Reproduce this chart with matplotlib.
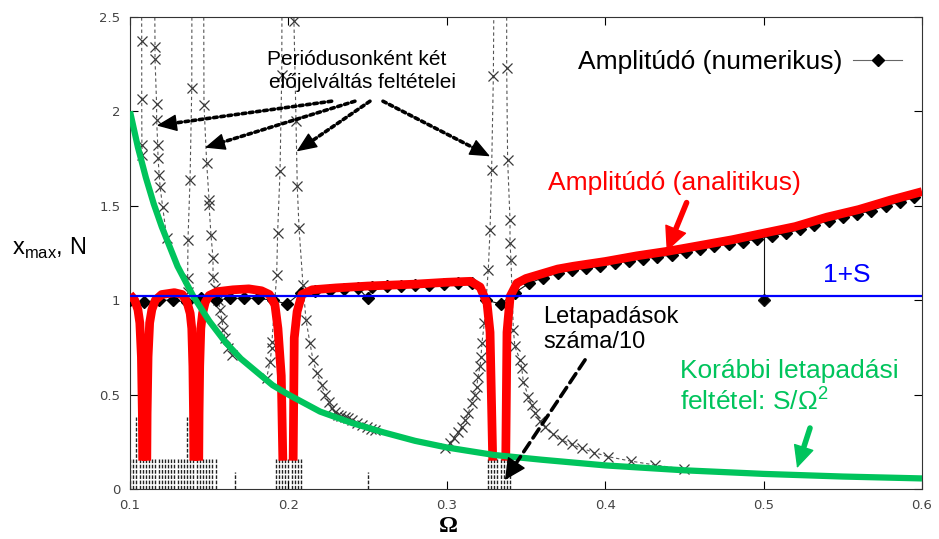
import matplotlib
matplotlib.use('Agg')
import matplotlib.pyplot as plt
from matplotlib.lines import Line2D

nan = float('nan')

# analytic amplitude (red), gaps where it drops out of the plotted range
red_omega = [0.1000, 0.1030, 0.1050, 0.1062, 0.1072, 0.1078, 0.1080, nan,
             0.1106, 0.1108, 0.1114, 0.1124, 0.1138, 0.1160, 0.1200, 0.1280, 0.1330, 0.1360, 0.1380,
             0.1390, 0.1397, 0.1401, 0.1403, nan,
             0.1434, 0.1436, 0.1440, 0.1447, 0.1458, 0.1475, 0.1500, 0.1550, 0.1650, 0.1750,
             0.1830, 0.1880, 0.1915, 0.1934, 0.1955, 0.1965, nan,
             0.2030, 0.2037, 0.2055, 0.2085, 0.2150, 0.2300, 0.2500, 0.2800, 0.3000, 0.3150, 0.3210, 0.3254,
             0.3273, 0.3290, nan,
             0.3372, 0.3380, 0.3400, 0.3443, 0.3500, 0.3600, 0.3700, 0.3800, 0.4000, 0.4200, 0.4400, 0.4600,
             0.4800, 0.5000, 0.5200, 0.5400, 0.5600, 0.5800, 0.6000]
red_amp = [1.03, 1.00, 0.95, 0.88, 0.70, 0.40, 0.15, nan,
           0.15, 0.40, 0.70, 0.88, 0.95, 1.00, 1.03, 1.04, 1.03, 0.99, 0.93,
           0.85, 0.65, 0.40, 0.15, nan,
           0.15, 0.40, 0.65, 0.85, 0.93, 0.99, 1.025, 1.045, 1.055, 1.06,
           1.05, 1.03, 0.975, 0.85, 0.60, 0.15, nan,
           0.15, 0.80, 0.94, 1.03, 1.055, 1.065, 1.075, 1.085, 1.095, 1.10, 1.07, 0.985,
           0.83, 0.15, nan,
           0.15, 0.83, 1.02, 1.09, 1.115, 1.14, 1.165, 1.18, 1.205, 1.235, 1.26, 1.29,
           1.32, 1.355, 1.39, 1.44, 1.48, 1.53, 1.575]

# numerical amplitude (diamonds)
num_omega = [0.100, 0.109, 0.118, 0.127, 0.136, 0.145, 0.154, 0.163, 0.172, 0.181,
             0.190, 0.199, 0.208, 0.217, 0.226, 0.235, 0.244, 0.250, 0.253, 0.262,
             0.271, 0.280, 0.289, 0.298, 0.307, 0.316, 0.325, 0.334, 0.343, 0.352,
             0.361, 0.370, 0.379, 0.388, 0.397, 0.406, 0.415, 0.424, 0.433, 0.442,
             0.451, 0.460, 0.469, 0.478, 0.487, 0.496, 0.505, 0.514, 0.523, 0.532,
             0.541, 0.550, 0.559, 0.568, 0.577, 0.586, 0.595]
num_amp = [1.00, 0.99, 1.00, 1.00, 0.99, 1.01, 1.00, 1.01, 1.01, 1.01,
           1.00, 0.98, 1.04, 1.05, 1.055, 1.06, 1.065, 1.01, 1.07, 1.075,
           1.075, 1.08, 1.08, 1.085, 1.09, 1.09, 1.00, 0.98, 1.04, 1.09,
           1.12, 1.145, 1.16, 1.17, 1.18, 1.195, 1.21, 1.22, 1.23, 1.24,
           1.255, 1.27, 1.285, 1.30, 1.31, 1.325, 1.34, 1.355, 1.375, 1.40,
           1.42, 1.44, 1.455, 1.475, 1.50, 1.52, 1.545]
drop_omega = [0.500, 0.500]
drop_amp = [1.335, 1.00]

# earlier sticking condition S/Omega^2 (green)
green_omega = [0.100, 0.105, 0.110, 0.115, 0.120, 0.130, 0.140, 0.150, 0.160, 0.170,
               0.180, 0.190, 0.200, 0.220, 0.240, 0.260, 0.280, 0.300, 0.330, 0.360,
               0.400, 0.450, 0.500, 0.550, 0.600]
green_amp = [2.00, 1.81, 1.65, 1.51, 1.39, 1.18, 1.02, 0.89, 0.78, 0.69,
             0.62, 0.55, 0.50, 0.41, 0.35, 0.30, 0.255, 0.22, 0.18, 0.155,
             0.125, 0.099, 0.080, 0.066, 0.056]

one_plus_s_omega = [0.1, 0.6]
one_plus_s = [1.02, 1.02]

# two sign changes per period conditions (x markers), one list per branch
cond_branches = [
    ([0.1073, 0.1074, 0.1074, 0.1075, 0.1078],
     [2.70, 2.375, 2.068, 1.824, 1.771]),
    ([0.1155, 0.1158, 0.1158, 0.1168, 0.1168, 0.1175, 0.1177, 0.1184, 0.1190, 0.1206, 0.1232],
     [2.70, 2.34, 2.275, 2.037, 1.957, 1.824, 1.755, 1.665, 1.601, 1.495, 1.331]),
    ([0.1391, 0.1390, 0.1379, 0.1366, 0.1364, 0.1364],
     [2.70, 2.126, 1.638, 1.320, 1.119, 1.045]),
    ([0.1465, 0.1467, 0.1484, 0.1499, 0.1499, 0.1511, 0.1524, 0.1524, 0.1537, 0.1556,
      0.1568, 0.1581, 0.1587, 0.1600, 0.1619, 0.1644],
     [2.70, 2.036, 1.729, 1.532, 1.506, 1.347, 1.225, 1.124, 1.066, 1.002,
      0.949, 0.896, 0.843, 0.801, 0.748, 0.710]),
    ([0.1960, 0.1958, 0.1947, 0.1932, 0.1926, 0.1896, 0.1895, 0.1884, 0.1863],
     [2.70, 2.195, 1.682, 1.357, 1.135, 0.779, 0.748, 0.673, 0.589]),
    ([0.2033, 0.2035, 0.2048, 0.2056, 0.2067, 0.2092, 0.2111, 0.2136, 0.2155, 0.2179,
      0.2210, 0.2231, 0.2255, 0.2273, 0.2295, 0.2313, 0.2335, 0.2355, 0.2376, 0.2400,
      0.2430, 0.2463, 0.2495, 0.2520, 0.2547],
     [2.70, 2.478, 1.948, 1.603, 1.384, 1.082, 0.896, 0.774, 0.684, 0.615,
      0.551, 0.498, 0.460, 0.430, 0.410, 0.392, 0.385, 0.380, 0.376, 0.365,
      0.352, 0.339, 0.328, 0.320, 0.313]),
    ([0.2989, 0.3020, 0.3045, 0.3070, 0.3095, 0.3115, 0.3135, 0.3157, 0.3175, 0.3189,
      0.3197, 0.3210, 0.3216, 0.3222, 0.3237, 0.3262, 0.3273, 0.3283, 0.3294, 0.3298],
     [0.217, 0.245, 0.270, 0.300, 0.330, 0.365, 0.400, 0.455, 0.500, 0.540,
      0.595, 0.650, 0.700, 0.775, 0.880, 1.162, 1.374, 1.692, 2.190, 2.70]),
    ([0.3378, 0.3378, 0.3384, 0.3399, 0.3399, 0.3405, 0.3420, 0.3430, 0.3462, 0.3473,
      0.3483, 0.3515, 0.3535, 0.3557, 0.3590, 0.3620, 0.3670, 0.3725, 0.3790, 0.3851,
      0.3930, 0.4020, 0.4160, 0.4314, 0.4500],
     [2.70, 2.232, 1.744, 1.426, 1.304, 1.214, 0.843, 0.755, 0.684, 0.642,
      0.569, 0.489, 0.445, 0.403, 0.362, 0.330, 0.292, 0.260, 0.236, 0.216,
      0.193, 0.171, 0.148, 0.127, 0.105]),
]

# number of stickings / 10 (impulses at the bottom)
stick_omega = [0.100, 0.102, 0.104, 0.106, 0.108, 0.110, 0.112, 0.114, 0.116, 0.118,
               0.120, 0.122, 0.124, 0.126, 0.128, 0.130, 0.132, 0.134, 0.136, 0.138,
               0.140, 0.142, 0.144, 0.146, 0.148, 0.150, 0.152, 0.154, 0.166,
               0.192, 0.194, 0.196, 0.198, 0.200, 0.202, 0.204, 0.206, 0.208, 0.250,
               0.326, 0.328, 0.330, 0.332, 0.334, 0.336, 0.338, 0.340]
stick_count = [0.16, 0.16, 0.38, 0.16, 0.16, 0.16, 0.16, 0.16, 0.16, 0.16,
               0.16, 0.16, 0.16, 0.16, 0.16, 0.16, 0.16, 0.16, 0.38, 0.16,
               0.16, 0.16, 0.16, 0.16, 0.16, 0.16, 0.16, 0.16, 0.09,
               0.16, 0.16, 0.16, 0.16, 0.16, 0.16, 0.16, 0.16, 0.16, 0.09,
               0.16, 0.16, 0.16, 0.16, 0.16, 0.16, 0.16, 0.16]

x_ticks = [0.1, 0.2, 0.3, 0.4, 0.5, 0.6]
x_labels = ['0.1', '0.2', '0.3', '0.4', '0.5', '0.6']
y_ticks = [0, 0.5, 1, 1.5, 2, 2.5]
y_labels = ['0', '0.5', '1', '1.5', '2', '2.5']

TXT = 'Liberation Sans'
GREEN = '#00c45c'

fig = plt.figure(figsize=(9.39, 5.39), dpi=100)
ax = fig.add_axes([130 / 939, 1 - 489 / 539, (922 - 130) / 939, (489 - 17) / 539])
ax.set_xlim(0.1, 0.6)
ax.set_ylim(0, 2.5)


def arrow(tail, tip, color, lw, ls, scale, hl, hw):
    # shaft in its own line style, solid filled head on top
    ax.annotate('', xy=tip, xytext=tail, zorder=8,
                arrowprops=dict(arrowstyle='-', color=color, lw=lw, ls=ls,
                                shrinkA=0, shrinkB=scale * hl * 0.8))
    back = (tip[0] + (tail[0] - tip[0]) * 0.05, tip[1] + (tail[1] - tip[1]) * 0.05)
    ax.annotate('', xy=tip, xytext=back, zorder=8,
                arrowprops=dict(arrowstyle=f'-|>,head_length={hl},head_width={hw}', color=color,
                                lw=1, mutation_scale=scale, shrinkA=0, shrinkB=0))


ax.vlines(stick_omega, 0, stick_count, colors='#222222', linewidth=1.0,
          linestyles=[(0, (2.6, 1.2))], zorder=1)

for om, val in cond_branches:
    ax.plot(om, val, color='#555555', linewidth=0.8, linestyle=(0, (3, 2.5)),
            marker='x', markersize=7, markeredgewidth=0.9, markeredgecolor='#3a3a3a', zorder=2)

ax.plot(num_omega, num_amp, color='#111111', linewidth=0.8, marker='D', markersize=6.5,
        markerfacecolor='k', markeredgecolor='k', zorder=3)
ax.plot(drop_omega, drop_amp, color='#111111', linewidth=0.8, marker='D', markersize=6.5,
        markevery=[1], markerfacecolor='k', zorder=3)

ax.plot(red_omega, red_amp, color='#ff0000', linewidth=6.3, solid_capstyle='butt',
        solid_joinstyle='round', zorder=4)
ax.plot(green_omega, green_amp, color=GREEN, linewidth=4.5, solid_capstyle='butt', zorder=5)
ax.plot(one_plus_s_omega, one_plus_s, color='#0000ff', linewidth=1.6, zorder=6)

ax.set_xticks(x_ticks)
ax.set_xticklabels(x_labels)
ax.set_yticks(y_ticks)
ax.set_yticklabels(y_labels)
ax.tick_params(direction='in', length=6, width=0.8, top=True, right=True,
               labelsize=9.5, labelcolor='#444444', pad=7)
for sp in ax.spines.values():
    sp.set_linewidth(0.8)
    sp.set_color('#333333')

# legend for the numerical amplitude
h = Line2D([], [], color='#666666', linewidth=0.8, marker='D', markersize=6.5,
           markerfacecolor='k', markeredgecolor='k')
ax.legend([h], ['Amplitúdó (numerikus)'], loc='center right', bbox_to_anchor=(0.975, 0.905),
          frameon=False, markerfirst=False, handlelength=1.85, handletextpad=0.4,
          borderpad=0, borderaxespad=0, prop={'family': TXT, 'size': 19})

# annotations
ax.text(0.2433, 2.248, 'Periódusonként két', family=TXT, fontsize=15, ha='center', va='baseline', zorder=8)
ax.text(0.2465, 2.126, 'előjelváltás feltételei', family=TXT, fontsize=15, ha='center', va='baseline', zorder=8)
dotted = [((0.2273, 2.054), (0.1169, 1.925)),
          ((0.2420, 2.054), (0.1473, 1.808)),
          ((0.2515, 2.054), (0.2052, 1.788)),
          ((0.2597, 2.054), (0.3273, 1.762))]
for tail, tip in dotted:
    arrow(tail, tip, 'k', 2.6, (0, (1, 1)), 15, 0.85, 0.36)

ax.text(0.3639, 1.585, 'Amplitúdó (analitikus)', family=TXT, fontsize=19, color='#ff0000',
        ha='left', va='baseline', zorder=8)
arrow((0.4514, 1.517), (0.4388, 1.259), '#ff0000', 4, '-', 20, 0.8, 0.38)

ax.text(0.5375, 1.099, '1+S', family=TXT, fontsize=19, color='#0000ff', ha='left', va='baseline', zorder=8)

ax.text(0.3607, 0.880, 'Letapadások', family=TXT, fontsize=17, ha='left', va='baseline', zorder=8)
ax.text(0.3607, 0.748, 'száma/10', family=TXT, fontsize=17, ha='left', va='baseline', zorder=8)
arrow((0.3873, 0.684), (0.3367, 0.048), 'k', 2.6, (0, (3, 1.6)), 16, 0.85, 0.42)

ax.text(0.4470, 0.590, 'Korábbi letapadási', family=TXT, fontsize=19, color=GREEN,
        ha='left', va='baseline', zorder=8)
ax.text(0.4470, 0.415, r'feltétel: S/$\mathregular{\Omega^2}$', family=TXT, fontsize=19, color=GREEN,
        ha='left', va='baseline', zorder=8)
arrow((0.5293, 0.323), (0.5211, 0.111), GREEN, 4, '-', 18, 0.8, 0.38)

fig.text(12 / 939, 1 - 255 / 539, r'x$_{\mathregular{max}}$, N', family=TXT, fontsize=17,
         ha='left', va='baseline')
fig.text(448 / 939, 1 - 532 / 539, 'Ω', family='Liberation Serif', fontsize=17, fontweight='bold',
         ha='center', va='baseline')

fig.savefig('out.png', dpi=100)
